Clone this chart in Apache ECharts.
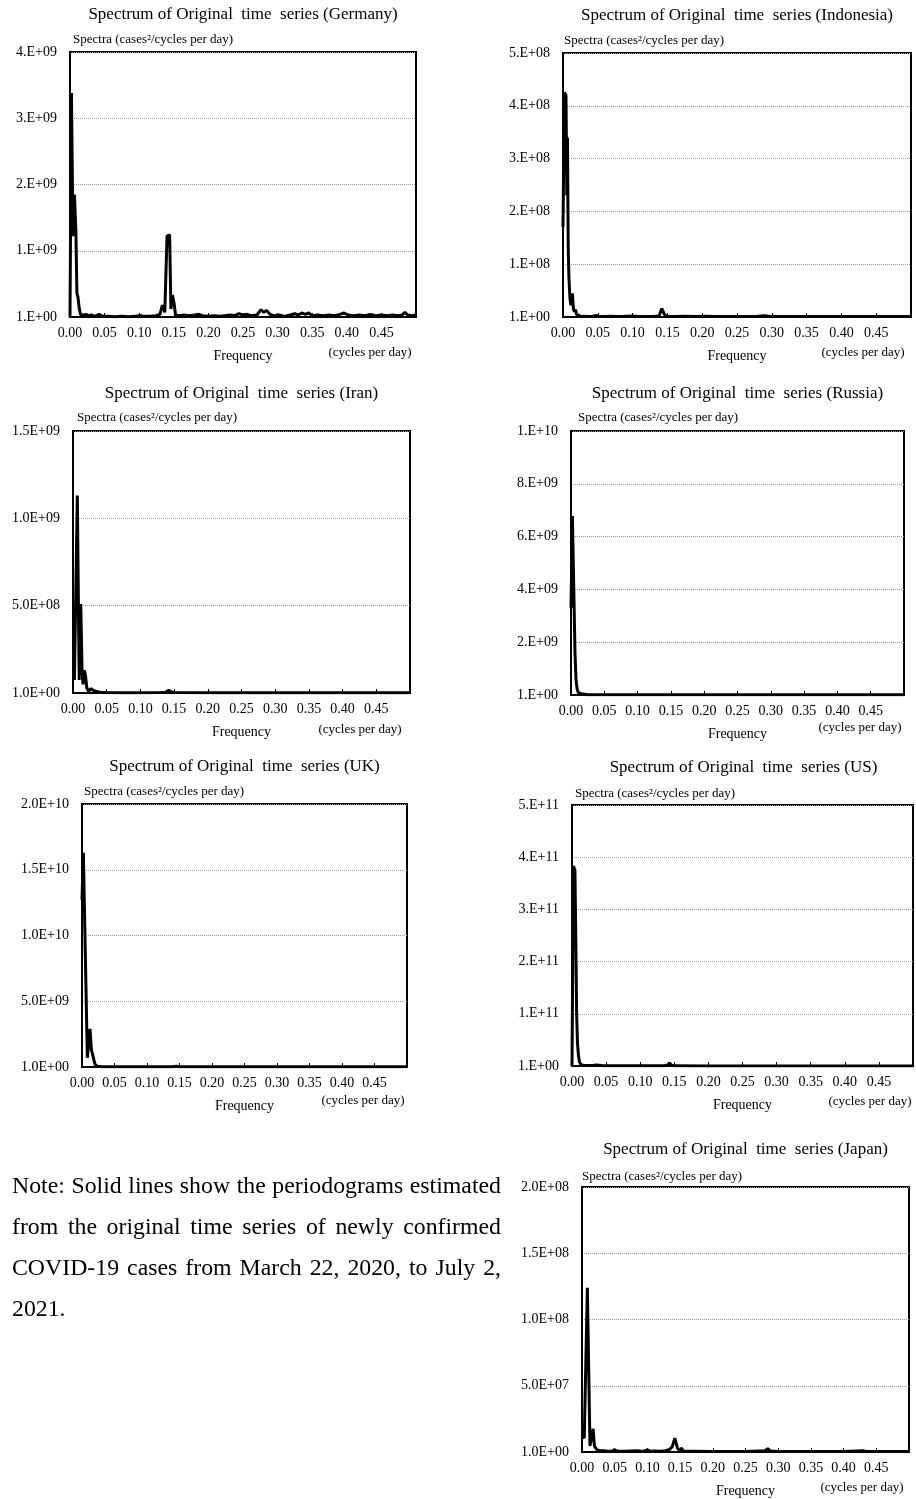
<!DOCTYPE html>
<html>
<head>
<meta charset="utf-8">
<script src="https://cdn.jsdelivr.net/npm/echarts@6/dist/echarts.min.js"></script>
<style>
  html, body { margin: 0; padding: 0; background: #fff; }
  #chart { position: absolute; left: 0; top: 0; width: 916px; height: 1499px; }
  #note { position: absolute; left: 12px; top: 1165px; width: 489px;
          font-family: "Liberation Serif", "Times New Roman", serif; font-size: 23.8px;
          line-height: 41px; color: #000; }
  #note .j { text-align: justify; text-align-last: justify; white-space: nowrap; }
</style>
</head>
<body>
<div id="chart"></div>
<div id="note">
  <div class="j">Note: Solid lines show the periodograms estimated</div>
  <div class="j">from the original time series of newly confirmed</div>
  <div class="j">COVID-19 cases from March 22, 2020, to July 2,</div>
  <div>2021.</div>
</div>
<script>
// ---------------- data ----------------
const xTickLabels = ['0.00','0.05','0.10','0.15','0.20','0.25','0.30','0.35','0.40','0.45'];

const germanyY   = ['1.E+00','1.E+09','2.E+09','3.E+09','4.E+09'];
const indonesiaY = ['1.E+00','1.E+08','2.E+08','3.E+08','4.E+08','5.E+08'];
const iranY      = ['1.0E+00','5.0E+08','1.0E+09','1.5E+09'];
const russiaY    = ['1.E+00','2.E+09','4.E+09','6.E+09','8.E+09','1.E+10'];
const ukY        = ['1.0E+00','5.0E+09','1.0E+10','1.5E+10','2.0E+10'];
const usY        = ['1.E+00','1.E+11','2.E+11','3.E+11','4.E+11','5.E+11'];
const japanY     = ['1.0E+00','5.0E+07','1.0E+08','1.5E+08','2.0E+08'];

// [frequency (cycles per day), spectrum]
const germany = [
  [0,0],[0.0021,3.38e9],[0.0043,1.22e9],[0.0064,1.85e9],[0.0085,1.3e9],[0.0100,0.36e9],[0.0115,0.3e9],
  [0.0135,0.12e9],[0.0155,0.03e9],[0.0175,0.06e9],[0.020,0.03e9],[0.023,0.04e9],[0.027,0.02e9],
  [0.031,0.03e9],[0.036,0.01e9],[0.042,0.04e9],[0.047,0.01e9],[0.055,0.01e9],[0.065,0.005e9],
  [0.075,0.01e9],[0.085,0.005e9],[0.095,0.01e9],[0.101,0.025e9],[0.106,0.01e9],[0.115,0.01e9],
  [0.124,0.02e9],[0.130,0.04e9],[0.1335,0.18e9],[0.137,0.07e9],[0.1402,1.22e9],[0.1440,1.24e9],
  [0.1458,0.12e9],[0.148,0.33e9],[0.1505,0.2e9],[0.1525,0.03e9],[0.158,0.02e9],[0.165,0.03e9],
  [0.172,0.02e9],[0.180,0.03e9],[0.186,0.04e9],[0.192,0.02e9],[0.200,0.01e9],[0.208,0.02e9],
  [0.216,0.01e9],[0.224,0.02e9],[0.232,0.03e9],[0.238,0.02e9],[0.244,0.05e9],[0.250,0.03e9],
  [0.256,0.04e9],[0.262,0.02e9],[0.270,0.03e9],[0.276,0.11e9],[0.280,0.07e9],[0.284,0.10e9],
  [0.289,0.04e9],[0.295,0.02e9],[0.302,0.03e9],[0.310,0.01e9],[0.318,0.03e9],[0.325,0.05e9],
  [0.330,0.03e9],[0.335,0.06e9],[0.340,0.04e9],[0.345,0.06e9],[0.350,0.02e9],[0.358,0.03e9],
  [0.366,0.02e9],[0.374,0.03e9],[0.382,0.02e9],[0.390,0.04e9],[0.396,0.06e9],[0.402,0.03e9],
  [0.410,0.02e9],[0.418,0.03e9],[0.426,0.02e9],[0.434,0.04e9],[0.442,0.02e9],[0.450,0.03e9],
  [0.458,0.02e9],[0.466,0.03e9],[0.474,0.02e9],[0.480,0.03e9],[0.484,0.07e9],[0.488,0.03e9],
  [0.494,0.02e9],[0.500,0.03e9]
];

const indonesia = [
  [0,1.71e8],[0.0021,4.25e8],[0.0043,4.2e8],[0.0055,2.3e8],[0.0064,3.4e8],[0.0075,1.3e8],[0.0085,0.75e8],
  [0.0100,0.35e8],[0.0115,0.22e8],[0.0135,0.45e8],[0.0150,0.15e8],[0.0165,0.1e8],[0.0180,0.14e8],
  [0.0195,0.05e8],[0.022,0.02e8],[0.026,0.01e8],[0.030,0.015e8],[0.036,0.01e8],[0.042,0.015e8],
  [0.048,0.03e8],[0.052,0.01e8],[0.060,0.01e8],[0.068,0.015e8],[0.076,0.01e8],[0.084,0.01e8],
  [0.092,0.015e8],[0.100,0.02e8],[0.108,0.01e8],[0.116,0.01e8],[0.124,0.01e8],[0.132,0.015e8],
  [0.138,0.02e8],[0.142,0.16e8],[0.146,0.04e8],[0.150,0.01e8],[0.160,0.01e8],[0.175,0.015e8],
  [0.190,0.01e8],[0.205,0.015e8],[0.220,0.01e8],[0.240,0.01e8],[0.260,0.01e8],[0.280,0.015e8],
  [0.290,0.025e8],[0.298,0.01e8],[0.320,0.01e8],[0.340,0.01e8],[0.370,0.01e8],[0.400,0.01e8],
  [0.430,0.01e8],[0.460,0.01e8],[0.500,0.01e8]
];

const iran = [
  [0.0021,0.075e9],[0.0064,1.13e9],[0.0092,0.075e9],[0.0115,0.51e9],[0.0135,0.12e9],[0.0150,0.05e9],
  [0.0170,0.13e9],[0.0185,0.1e9],[0.0205,0.03e9],[0.023,0.01e9],[0.027,0.025e9],[0.030,0.015e9],
  [0.034,0.01e9],[0.040,0.005e9],[0.050,0.003e9],[0.070,0.002e9],[0.100,0.002e9],[0.130,0.003e9],
  [0.138,0.005e9],[0.142,0.015e9],[0.146,0.006e9],[0.150,0.003e9],[0.200,0.002e9],[0.300,0.002e9],
  [0.400,0.002e9],[0.500,0.002e9]
];

const russia = [
  [0,3.3e9],[0.0021,6.78e9],[0.0043,6.75e9],[0.0060,1.6e9],[0.0075,0.6e9],[0.0090,0.25e9],
  [0.0107,0.1e9],[0.0130,0.13e9],[0.0150,0.05e9],[0.018,0.02e9],[0.025,0.01e9],[0.100,0.01e9],
  [0.200,0.01e9],[0.300,0.01e9],[0.400,0.01e9],[0.500,0.01e9]
];

const uk = [
  [0,1.27e10],[0.0021,1.63e10],[0.0050,1.62e10],[0.0082,0.07e10],[0.0123,0.29e10],[0.0145,0.13e10],
  [0.0170,0.08e10],[0.0200,0.02e10],[0.024,0.005e10],[0.030,0.002e10],[0.100,0.001e10],
  [0.140,0.002e10],[0.145,0.006e10],[0.150,0.002e10],[0.300,0.001e10],[0.500,0.001e10]
];

const us = [
  [0,0],[0.0021,3.83e11],[0.0043,3.75e11],[0.0055,2.5e11],[0.0068,1.0e11],[0.0080,0.45e11],
  [0.0095,0.2e11],[0.0110,0.08e11],[0.013,0.03e11],[0.016,0.015e11],[0.020,0.01e11],[0.030,0.008e11],
  [0.036,0.02e11],[0.040,0.015e11],[0.045,0.005e11],[0.060,0.003e11],[0.100,0.003e11],
  [0.135,0.004e11],[0.140,0.015e11],[0.143,0.06e11],[0.146,0.015e11],[0.150,0.003e11],
  [0.200,0.002e11],[0.300,0.002e11],[0.400,0.002e11],[0.500,0.002e11]
];

const japan = [
  [0,1.1e7],[0.0035,1.1e7],[0.0082,12.4e7],[0.0122,0.45e7],[0.0140,0.6e7],[0.0170,1.75e7],
  [0.0190,0.45e7],[0.0212,0.6e7],[0.0232,0.15e7],[0.026,0.25e7],[0.029,0.1e7],[0.033,0.1e7],
  [0.040,0.05e7],[0.045,0.05e7],[0.050,0.15e7],[0.055,0.05e7],[0.065,0.05e7],[0.075,0.08e7],
  [0.085,0.1e7],[0.090,0.05e7],[0.095,0.08e7],[0.100,0.15e7],[0.105,0.05e7],[0.110,0.08e7],
  [0.120,0.06e7],[0.128,0.1e7],[0.134,0.2e7],[0.138,0.4e7],[0.142,1.05e7],[0.146,0.3e7],
  [0.149,0.1e7],[0.152,0.3e7],[0.155,0.05e7],[0.170,0.05e7],[0.200,0.03e7],[0.250,0.04e7],
  [0.280,0.1e7],[0.284,0.25e7],[0.288,0.08e7],[0.300,0.03e7],[0.350,0.03e7],[0.400,0.03e7],
  [0.430,0.1e7],[0.435,0.03e7],[0.500,0.03e7]
];

// ---------------- layout ----------------
const panels = [
  { country:'Germany',   data:germany,   labels:germanyY,   max:4e9,  interval:1e9,  grid:{left:70,  top:52,   width:346, height:265}, nameGap:12, nameDx:3, cycles:[370,353] },
  { country:'Indonesia', data:indonesia, labels:indonesiaY, max:5e8,  interval:1e8,  grid:{left:563, top:53,   width:348, height:264}, nameGap:12, nameDx:1, cycles:[863,353] },
  { country:'Iran',      data:iran,      labels:iranY,      max:1.5e9,interval:5e8,  grid:{left:73,  top:431,  width:337, height:262}, nameGap:13, nameDx:4, cycles:[360,730] },
  { country:'Russia',    data:russia,    labels:russiaY,    max:1e10, interval:2e9,  grid:{left:571, top:431,  width:333, height:264}, nameGap:13, nameDx:7, cycles:[860,728] },
  { country:'UK',        data:uk,        labels:ukY,        max:2e10, interval:5e9,  grid:{left:82,  top:804,  width:325, height:263}, nameGap:12, nameDx:2, cycles:[363,1101] },
  { country:'US',        data:us,        labels:usY,        max:5e11, interval:1e11, grid:{left:572, top:805,  width:343, height:261}, nameGap:11, nameDx:3, cycles:[870,1102] },
  { country:'Japan',     data:japan,     labels:japanY,     max:2e8,  interval:5e7,  grid:{left:582, top:1187, width:327, height:266}, nameGap:10, nameDx:0, cycles:[862,1488] }
];

const FONT = '"Liberation Serif", "Times New Roman", serif';

const grids = [], xAxes = [], yAxes = [], series = [], graphics = [];
panels.forEach((p, i) => {
  grids.push(Object.assign({ show:true, borderColor:'#000', borderWidth:2, containLabel:false }, p.grid));
  xAxes.push({
    type:'value', gridIndex:i, min:0, max:0.5, interval:0.05,
    name:'Frequency', nameLocation:'middle', nameGap:39,
    nameTextStyle:{ fontFamily:FONT, fontSize:14, color:'#000', verticalAlign:'middle' },
    axisLine:{ show:true, lineStyle:{ color:'#000', width:2 } },
    axisTick:{ show:true, inside:true, length:4, lineStyle:{ color:'#000', width:1 } },
    axisLabel:{ fontFamily:FONT, fontSize:14, color:'#000', margin:9,
      formatter: v => xTickLabels[Math.round(v / 0.05)] || '' },
    splitLine:{ show:false }
  });
  yAxes.push({
    type:'value', gridIndex:i, min:0, max:p.max, interval:p.interval,
    name:'Spectra (cases\u00B2/cycles per day)', nameLocation:'end', nameGap:p.nameGap,
    nameTextStyle:{ fontFamily:FONT, fontSize:13, color:'#000', align:'left', verticalAlign:'middle', padding:[0,0,0,p.nameDx] },
    axisLine:{ show:true, lineStyle:{ color:'#000', width:2 } },
    axisTick:{ show:false },
    axisLabel:{ fontFamily:FONT, fontSize:14, color:'#000', margin:13,
      formatter: v => p.labels[Math.round(v / p.interval)] || '' },
    splitLine:{ show:true, lineStyle:{ color:'#999', width:1, type:'dotted' } }
  });
  series.push({
    type:'line', name:p.country, xAxisIndex:i, yAxisIndex:i, data:p.data,
    symbol:'none', showSymbol:false, clip:true, animation:false,
    lineStyle:{ color:'#000', width:3 }
  });
  const cx = p.grid.left + p.grid.width / 2;
  graphics.push({
    type:'text', x:cx, y:p.grid.top - 37,
    style:{ text:'Spectrum of Original  time  series (' + p.country + ')', fill:'#000',
      font:'17px ' + FONT, align:'center', verticalAlign:'middle' }
  });
  graphics.push({
    type:'text', x:p.cycles[0], y:p.cycles[1],
    style:{ text:'(cycles per day)', fill:'#000', font:'13px ' + FONT, align:'center', verticalAlign:'middle' }
  });
});

const chart = echarts.init(document.getElementById('chart'), null, { renderer:'canvas' });
chart.setOption({
  animation:false,
  backgroundColor:'#fff',
  grid:grids, xAxis:xAxes, yAxis:yAxes, series:series, graphic:graphics
});
</script>
</body>
</html>
